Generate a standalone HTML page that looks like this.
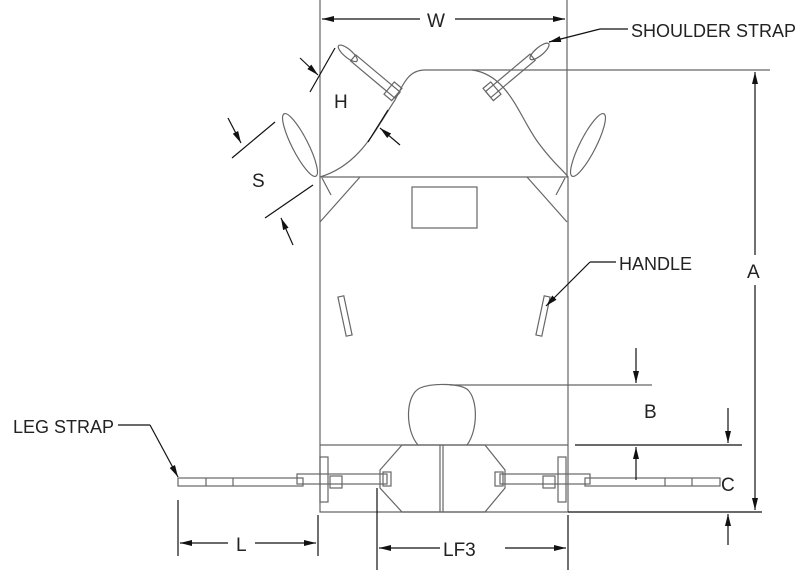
<!DOCTYPE html>
<html><head><meta charset="utf-8"><style>
html,body{margin:0;padding:0;background:#fff;}
svg{display:block;}
text{font-family:"Liberation Sans",sans-serif;fill:#222;}
</style></head><body>
<svg width="800" height="576" viewBox="0 0 800 576" xmlns="http://www.w3.org/2000/svg">
<defs>
<marker id="ar" markerWidth="12" markerHeight="6" refX="12" refY="3" orient="auto" markerUnits="userSpaceOnUse">
<path d="M0,0 L12,3 L0,6 z" fill="#111"/></marker>
</defs>
<g stroke="#666" stroke-width="1.2" fill="none">
<line x1="320" y1="0" x2="320" y2="177"/>
<line x1="567" y1="0" x2="567" y2="177"/>
<path d="M320,177 L320,512 L568,512 L568,177 Z"/>
<line x1="320" y1="445" x2="568" y2="445"/>
<path d="M320,177 C360,165 375,130 395,100 C405,80 410,70 425,70 L770,70"/>
<path d="M472,70 C510,75 520,120 540,145 C555,165 565,172 568,177"/>
<path d="M360,177 L320,222 M527,177 L567,222"/>
<rect x="412" y="187" width="65" height="41"/>
<g transform="rotate(-12 345 316)"><rect x="342" y="296" width="6" height="40"/></g>
<g transform="rotate(12 543 316)"><rect x="540" y="296" width="6" height="40"/></g>
<path d="M418,445 C405,430 405,395 420,388 C432,383 460,383 468,390 C478,400 478,430 467,445"/>
<line x1="450" y1="385" x2="652" y2="385"/>
<path d="M402,445 L485,445 L505,470 L505,488 L485,512 L402,512 L380,488 L380,470 Z"/>
<line x1="440" y1="445" x2="440" y2="512"/><line x1="443" y1="445" x2="443" y2="512"/>
<rect x="178" y="478" width="125" height="8"/>
<line x1="206" y1="478" x2="206" y2="486"/><line x1="233" y1="478" x2="233" y2="486"/>
<rect x="297" y="474" width="90" height="10"/>
<rect x="320" y="457" width="8" height="45"/>
<rect x="330" y="476" width="12" height="12"/>
<rect x="383" y="472" width="8" height="14"/>
<rect x="585" y="478" width="135" height="8"/>
<line x1="665" y1="478" x2="665" y2="486"/><line x1="692" y1="478" x2="692" y2="486"/>
<rect x="500" y="474" width="90" height="10"/>
<rect x="558" y="457" width="8" height="45"/>
<rect x="543" y="476" width="12" height="12"/>
<rect x="495" y="472" width="8" height="14"/>
<g transform="rotate(40 370 72)"><rect x="348" y="68" width="58" height="8"/><rect x="395" y="64" width="10" height="16"/><ellipse cx="341" cy="72" rx="12" ry="4"/></g>
<g transform="rotate(-40 515 72)"><rect x="480" y="68" width="58" height="8"/><rect x="480" y="64" width="10" height="16"/><ellipse cx="547" cy="72" rx="12" ry="4"/></g>
<g transform="rotate(63 300 145)"><ellipse cx="300" cy="145" rx="35" ry="8"/></g>
<g transform="rotate(-63 588 145)"><ellipse cx="588" cy="145" rx="35" ry="8"/></g>
<line x1="322" y1="178" x2="331" y2="195"/><line x1="565" y1="178" x2="556" y2="195"/>
</g>
<g stroke="#111" stroke-width="1.2" fill="none">
<line x1="420" y1="19" x2="322" y2="19" marker-end="url(#ar)"/>
<line x1="455" y1="19" x2="565" y2="19" marker-end="url(#ar)"/>
<line x1="755" y1="255" x2="755" y2="72" marker-end="url(#ar)"/>
<line x1="755" y1="285" x2="755" y2="510" marker-end="url(#ar)"/>
<line x1="568" y1="512" x2="762" y2="512"/>
<line x1="636" y1="348" x2="636" y2="383" marker-end="url(#ar)"/>
<line x1="636" y1="480" x2="636" y2="447" marker-end="url(#ar)"/>
<line x1="575" y1="445" x2="742" y2="445"/>
<line x1="728" y1="408" x2="728" y2="443" marker-end="url(#ar)"/>
<line x1="728" y1="545" x2="728" y2="514" marker-end="url(#ar)"/>
<line x1="178" y1="500" x2="178" y2="556"/>
<line x1="318" y1="515" x2="318" y2="556"/>
<line x1="228" y1="543" x2="180" y2="543" marker-end="url(#ar)"/>
<line x1="255" y1="543" x2="316" y2="543" marker-end="url(#ar)"/>
<line x1="377" y1="488" x2="377" y2="570"/>
<line x1="568" y1="515" x2="568" y2="570"/>
<line x1="440" y1="548" x2="379" y2="548" marker-end="url(#ar)"/>
<line x1="505" y1="548" x2="566" y2="548" marker-end="url(#ar)"/>
<line x1="300" y1="58" x2="318" y2="75" marker-end="url(#ar)"/>
<line x1="310" y1="92" x2="335" y2="48"/>
<line x1="400" y1="145" x2="380" y2="128" marker-end="url(#ar)"/>
<line x1="368" y1="142" x2="388" y2="110"/>
<line x1="228" y1="118" x2="241" y2="143" marker-end="url(#ar)"/>
<line x1="232" y1="158" x2="275" y2="122"/>
<line x1="293" y1="245" x2="281" y2="218" marker-end="url(#ar)"/>
<line x1="265" y1="218" x2="313" y2="185"/>
<line x1="628" y1="29" x2="600" y2="29"/>
<line x1="600" y1="29" x2="549" y2="42" marker-end="url(#ar)"/>
<line x1="590" y1="262" x2="616" y2="262"/>
<line x1="590" y1="262" x2="546" y2="306" marker-end="url(#ar)"/>
<line x1="118" y1="425" x2="150" y2="425"/>
<line x1="150" y1="425" x2="178" y2="477" marker-end="url(#ar)"/>
</g>
<g font-size="18">
<text x="427" y="27" font-size="19">W</text>
<text x="631" y="37">SHOULDER STRAP</text>
<text x="334" y="108" font-size="19">H</text>
<text x="252" y="187" font-size="19">S</text>
<text x="619" y="270">HANDLE</text>
<text x="747" y="278" font-size="19">A</text>
<text x="644" y="418" font-size="19">B</text>
<text x="721" y="491" font-size="19">C</text>
<text x="13" y="433">LEG STRAP</text>
<text x="236" y="551" font-size="19">L</text>
<text x="443" y="556" font-size="19">LF3</text>
</g>
</svg>
</body></html>
